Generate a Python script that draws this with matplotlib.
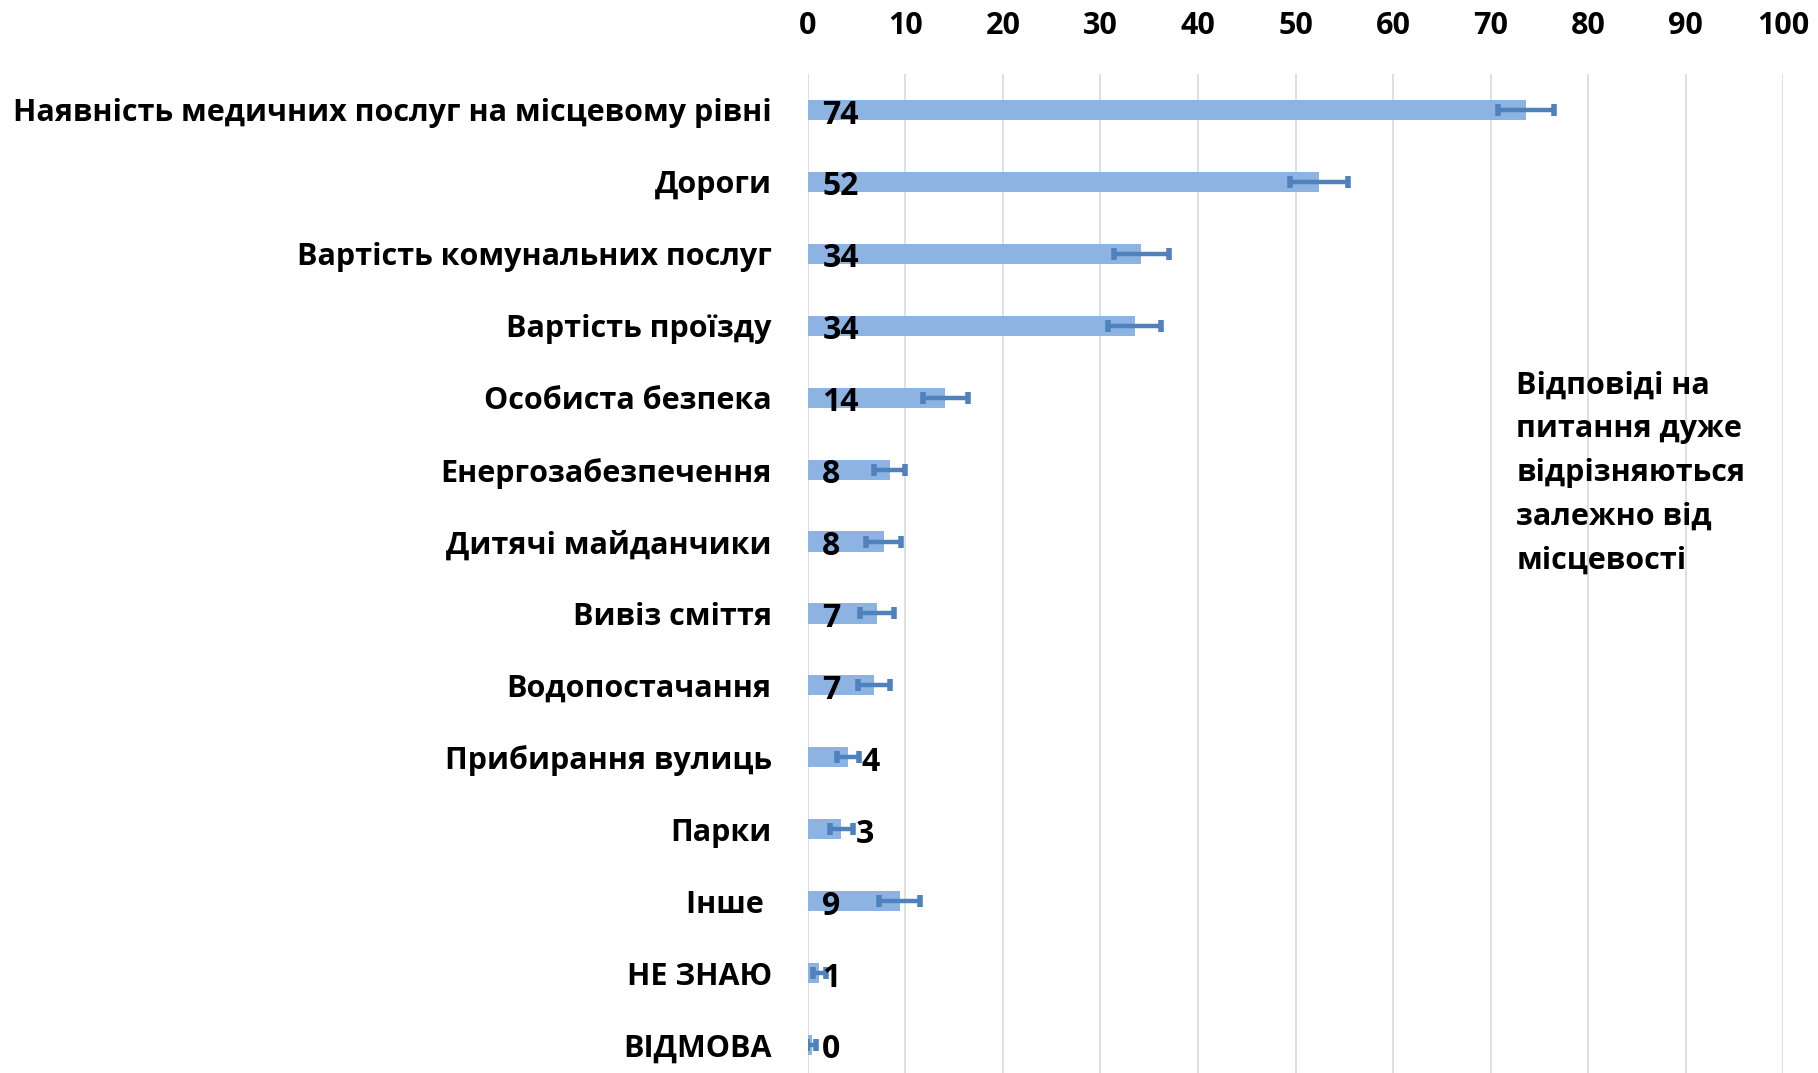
import numpy as np
import matplotlib.pyplot as plt

plt.rcParams['font.family'] = ['Open Sans', 'DejaVu Sans']
plt.rcParams['font.weight'] = 'bold'

categories = ["Наявність медичних послуг на місцевому рівні", "Дороги",
              "Вартість комунальних послуг", "Вартість проїзду", "Особиста безпека",
              "Енергозабезпечення", "Дитячі майданчики", "Вивіз сміття",
              "Водопостачання", "Прибирання вулиць", "Парки", "Інше ", "НЕ ЗНАЮ", "ВІДМОВА"]
values = [73.6, 52.4, 34.2, 33.5, 14.1, 8.4, 7.8, 7.1, 6.8, 4.15, 3.45, 9.45, 1.2, 0.4]
errors = [2.9, 3.0, 2.8, 2.75, 2.3, 1.6, 1.8, 1.7, 1.65, 1.1, 1.15, 2.1, 0.7, 0.45]
labels = ["74", "52", "34", "34", "14", "8", "8", "7", "7", "4", "3", "9", "1", "0"]
note = "Відповіді на\nпитання дуже\nвідрізняються\nзалежно від\nмісцевості"

values = np.array(values)
errors = np.array(errors)
y = np.arange(len(categories))

fig = plt.figure(figsize=(18.18, 10.73), dpi=100)
ax = fig.add_axes([0.4443, 0.0, 0.5367, 0.931])

ax.barh(y, values, height=0.28, color='#8DB3E2', zorder=2)
ax.errorbar(values, y, xerr=errors, fmt='none', ecolor='#4F81BD',
            elinewidth=3.2, capsize=4, capthick=4, zorder=3)

# small bars get the label past the error bar
for i in range(len(y)):
    if 2 < values[i] < 5:
        lx = values[i] + errors[i] + 0.3
    else:
        lx = 1.5
    ax.text(lx, y[i] + 0.07, labels[i], ha='left', va='center',
            fontsize=23, fontweight='bold', color='black', zorder=4)

ax.set_xlim(0, 100)
ax.set_ylim(13.39, -0.5)
ax.set_xticks(np.arange(0, 101, 10))
ax.xaxis.tick_top()
ax.tick_params(axis='x', length=0, pad=24, labelsize=22)
ax.set_yticks(y)
ax.set_yticklabels(categories)
ax.tick_params(axis='y', length=0, pad=26, labelsize=22)
ax.grid(axis='x', color='#D9D9D9', linewidth=1.2, zorder=0)
for s in ax.spines.values():
    s.set_visible(False)

fig.text(0.834, 0.655, note, ha='left', va='top', fontsize=22,
         fontweight='bold', linespacing=1.6)

fig.savefig('out.png', dpi=100)
